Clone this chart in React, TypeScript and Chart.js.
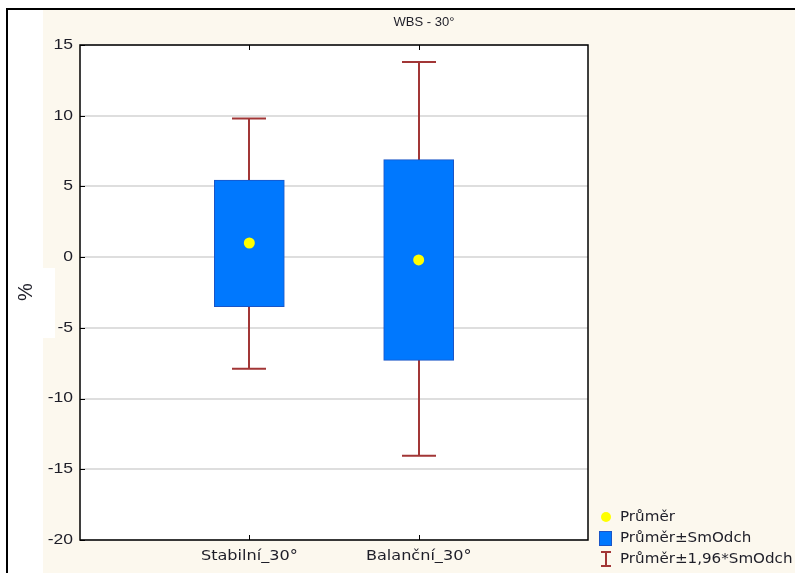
import { useEffect, useRef } from "react";
import { Chart, registerables } from "chart.js";

Chart.register(...registerables);

// Groups on the horizontal axis
const categories = ["Stabilní_30°", "Balanční_30°"];
// Mean of each group
const means = [1.0, -0.2];
// Mean ± SD (box)
const sdLow = [-3.5, -7.3];
const sdHigh = [5.45, 6.9];
// Mean ± 1.96*SD (whiskers)
const ciLow = [-7.9, -14.05];
const ciHigh = [9.8, 13.8];
// Y axis
const yMin = -20;
const yMax = 15;
const yStep = 5;
const yTickLabels = ["15", "10", "5", "0", "-5", "-10", "-15", "-20"];

const titleText = "WBS - 30°";
const yTitle = "%";
const legendLabels = ["Průměr", "Průměr±SmOdch", "Průměr±1,96*SmOdch"];

const BOX_FILL = "#0078fe";
const BOX_EDGE = "#1a55c6";
const WHISKER = "#a23636";
const MEAN = "#ffff00";
const CREAM = "#fcf8ee";
const TEXT = "#1e1e28";
const SANS = "'Liberation Sans', Arial, sans-serif";
const WIDE = "'DejaVu Sans', Verdana, sans-serif";

// text drawn with a horizontal stretch factor
function drawText(
  ctx: CanvasRenderingContext2D,
  text: string,
  x: number,
  y: number,
  font: string,
  align: CanvasTextAlign,
  sx: number
) {
  ctx.save();
  ctx.translate(x, y);
  ctx.scale(sx, 1);
  ctx.font = font;
  ctx.textAlign = align;
  ctx.textBaseline = "middle";
  ctx.fillStyle = TEXT;
  ctx.fillText(text, 0, 0);
  ctx.restore();
}

const framePlugin = {
  id: "frame",
  beforeDraw(chart: any) {
    const { ctx, width, height, chartArea: a } = chart;
    ctx.save();
    ctx.fillStyle = "#ffffff";
    ctx.fillRect(0, 0, width, height);
    ctx.fillStyle = CREAM;
    ctx.fillRect(43, 10, width - 43, height - 10);
    ctx.fillStyle = "#ffffff";
    ctx.fillRect(43, 268, 12, 70);
    ctx.fillRect(a.left, a.top, a.right - a.left, a.bottom - a.top);
    ctx.strokeStyle = "#000";
    ctx.lineWidth = 2;
    ctx.beginPath();
    ctx.moveTo(7, height);
    ctx.lineTo(7, 9);
    ctx.lineTo(width, 9);
    ctx.stroke();
    ctx.restore();
  },
};

const whiskerPlugin = {
  id: "whiskers",
  beforeDatasetsDraw(chart: any) {
    const { ctx } = chart;
    const xs = chart.scales.x;
    const ys = chart.scales.y;
    ctx.save();
    ctx.strokeStyle = WHISKER;
    ctx.lineWidth = 2;
    categories.forEach((_, i) => {
      const px = Math.round(xs.getPixelForValue(i + 1));
      const top = ys.getPixelForValue(ciHigh[i]);
      const bot = ys.getPixelForValue(ciLow[i]);
      ctx.beginPath();
      ctx.moveTo(px, top);
      ctx.lineTo(px, bot);
      ctx.moveTo(px - 17, top);
      ctx.lineTo(px + 17, top);
      ctx.moveTo(px - 17, bot);
      ctx.lineTo(px + 17, bot);
      ctx.stroke();
    });
    ctx.restore();
  },
};

const decorPlugin = {
  id: "decor",
  afterDraw(chart: any) {
    const { ctx, chartArea: a } = chart;
    const xs = chart.scales.x;
    const ys = chart.scales.y;
    ctx.save();
    // plot frame
    ctx.strokeStyle = "#000";
    ctx.lineWidth = 1.5;
    ctx.strokeRect(a.left, a.top, a.right - a.left, a.bottom - a.top);
    // inward tick marks
    ctx.lineWidth = 1;
    ctx.beginPath();
    yTickLabels.forEach((t) => {
      const py = Math.round(ys.getPixelForValue(Number(t))) + 0.5;
      ctx.moveTo(a.left, py);
      ctx.lineTo(a.left + 5, py);
    });
    categories.forEach((_, i) => {
      const px = Math.round(xs.getPixelForValue(i + 1)) + 0.5;
      ctx.moveTo(px, a.top);
      ctx.lineTo(px, a.top + 5);
      ctx.moveTo(px, a.bottom);
      ctx.lineTo(px, a.bottom - 5);
    });
    ctx.stroke();

    // y tick labels
    yTickLabels.forEach((t) => {
      drawText(ctx, t, a.left - 7, ys.getPixelForValue(Number(t)), `14px ${SANS}`, "right", 1.25);
    });
    // x category labels
    categories.forEach((c, i) => {
      drawText(ctx, c, xs.getPixelForValue(i + 1), a.bottom + 16, `14px ${WIDE}`, "center", 1.15);
    });

    // title
    drawText(ctx, titleText, 424, 22, `13px ${SANS}`, "center", 1);

    // y axis title
    ctx.save();
    ctx.translate(26, 292);
    ctx.rotate(-Math.PI / 2);
    drawText(ctx, yTitle, 0, 0, `20px ${SANS}`, "center", 1);
    ctx.restore();

    // legend
    const lx = 606;
    const rows = [517, 538, 559];
    ctx.fillStyle = MEAN;
    ctx.beginPath();
    ctx.arc(lx, rows[0], 5, 0, Math.PI * 2);
    ctx.fill();
    ctx.fillStyle = BOX_FILL;
    ctx.fillRect(lx - 7, rows[1] - 7, 13, 15);
    ctx.strokeStyle = BOX_EDGE;
    ctx.lineWidth = 1;
    ctx.strokeRect(lx - 6.5, rows[1] - 6.5, 12, 14);
    ctx.strokeStyle = WHISKER;
    ctx.lineWidth = 2;
    ctx.beginPath();
    ctx.moveTo(lx, rows[2] - 7);
    ctx.lineTo(lx, rows[2] + 7);
    ctx.moveTo(lx - 5, rows[2] - 7);
    ctx.lineTo(lx + 5, rows[2] - 7);
    ctx.moveTo(lx - 5, rows[2] + 7);
    ctx.lineTo(lx + 5, rows[2] + 7);
    ctx.stroke();
    legendLabels.forEach((t, i) => drawText(ctx, t, 620, rows[i], `14px ${WIDE}`, "left", 1.08));
    ctx.restore();
  },
};

export default function App() {
  const canvasRef = useRef<HTMLCanvasElement | null>(null);

  useEffect(() => {
    const canvas = canvasRef.current;
    if (!canvas) return;
    const chart = new Chart(canvas, {
      type: "bar",
      data: {
        datasets: [
          {
            type: "scatter",
            data: categories.map((_, i) => ({ x: i + 1, y: means[i] })),
            pointRadius: 5.5,
            pointBackgroundColor: MEAN,
            pointBorderWidth: 0,
            order: 0,
          } as any,
          {
            type: "bar",
            data: categories.map((_, i) => ({ x: i + 1, y: [sdLow[i], sdHigh[i]] })),
            backgroundColor: BOX_FILL,
            borderColor: BOX_EDGE,
            borderWidth: 1,
            borderSkipped: false,
            barThickness: 70,
            order: 1,
          } as any,
        ],
      },
      options: {
        animation: false,
        responsive: false,
        events: [],
        layout: { padding: { left: 0, right: 207, top: 45, bottom: 0 } },
        plugins: {
          legend: { display: false },
          tooltip: { enabled: false },
          title: { display: false },
        },
        scales: {
          x: {
            type: "linear",
            min: 0,
            max: 3,
            offset: false,
            grid: { display: false },
            border: { display: false },
            ticks: { display: false },
            afterFit: (s: any) => {
              s.height = 33;
            },
          },
          y: {
            type: "linear",
            min: yMin,
            max: yMax,
            grid: { color: "#dedede", lineWidth: 2, drawTicks: false },
            border: { display: false },
            ticks: { display: false, stepSize: yStep },
            afterFit: (s: any) => {
              s.width = 80;
            },
          },
        },
      },
      plugins: [framePlugin, whiskerPlugin, decorPlugin],
    });
    return () => chart.destroy();
  }, []);

  return (
    <div style={{ position: "absolute", left: 0, top: 0, width: 795, height: 573 }}>
      <canvas ref={canvasRef} width={795} height={573} />
    </div>
  );
}
